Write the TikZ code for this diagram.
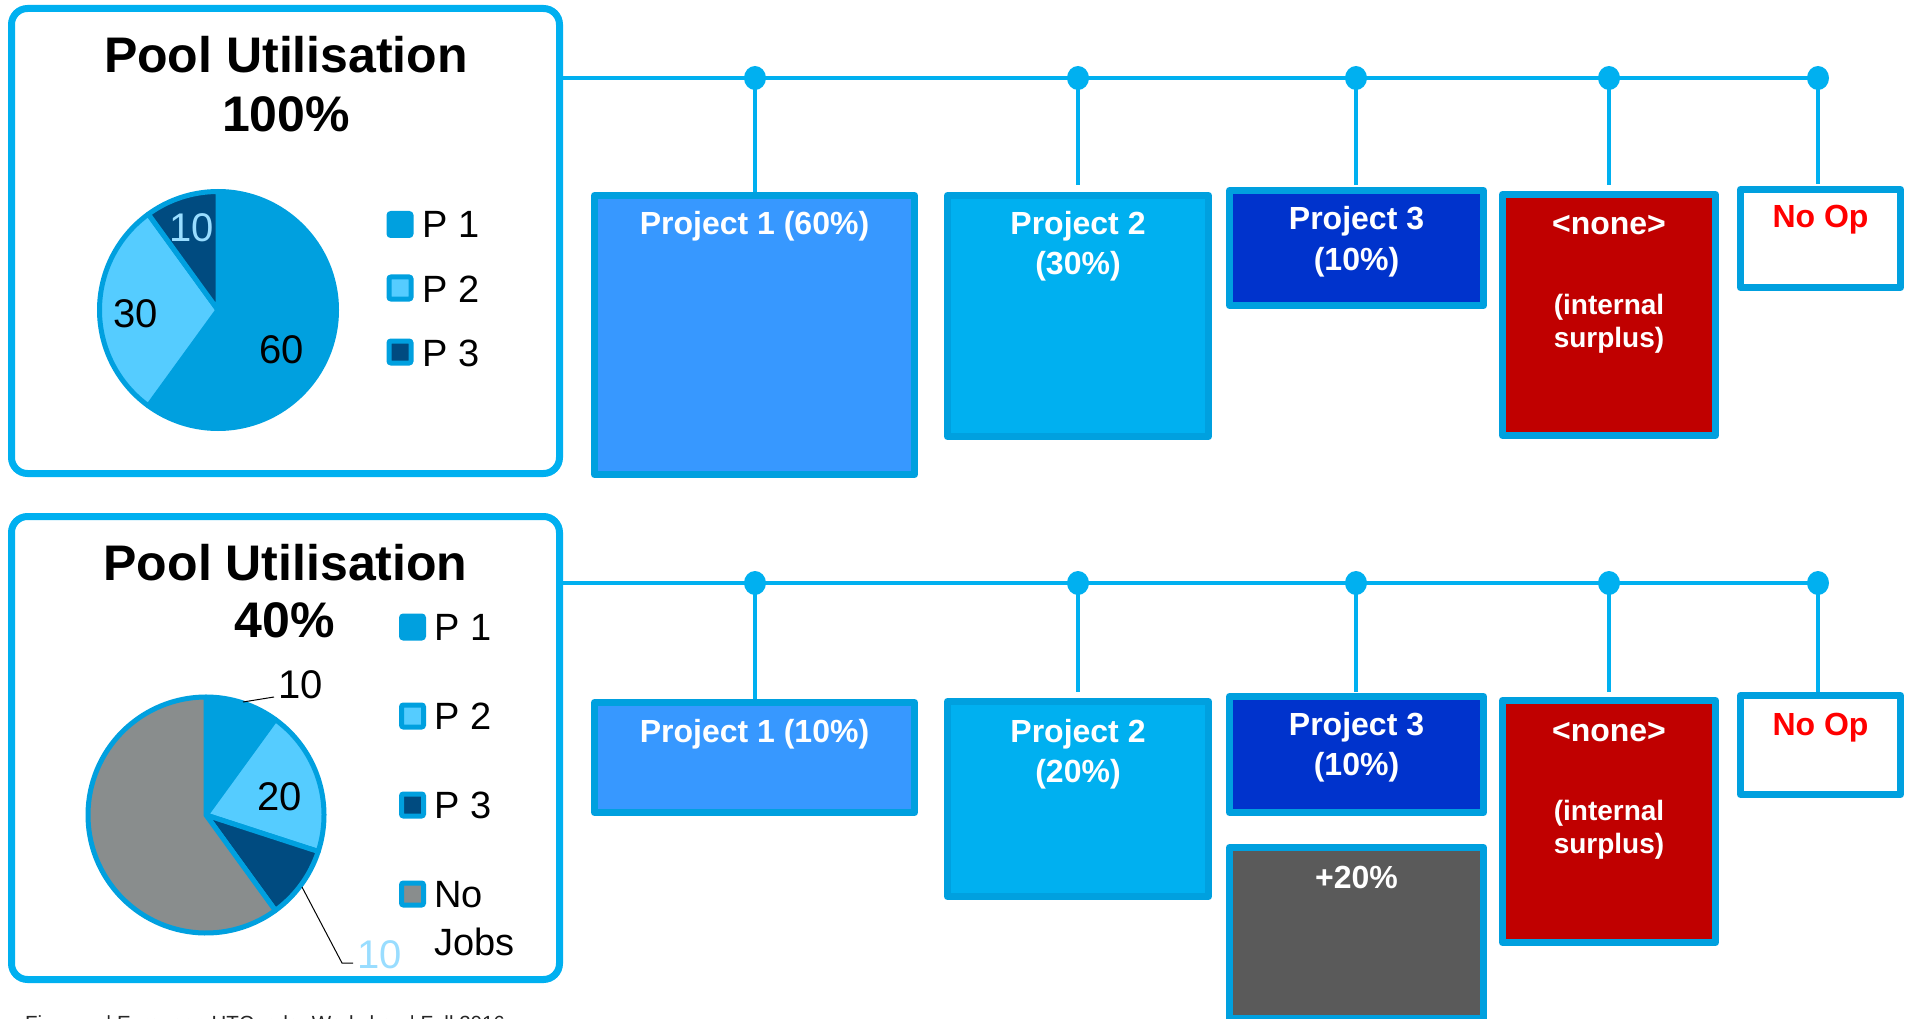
\documentclass[tikz,border=0pt]{standalone}
\usepackage{fontspec}
\setmainfont{Liberation Sans}
\usetikzlibrary{shapes.geometric}

\definecolor{bus}{HTML}{00B0F0}
\definecolor{edge}{HTML}{00A0DF}
\definecolor{projA}{HTML}{3798FF}
\definecolor{projB}{HTML}{00B0F0}
\definecolor{projC}{HTML}{0033CC}
\definecolor{surplus}{HTML}{C00000}
\definecolor{extra}{HTML}{5A5A5A}
\definecolor{pieA}{HTML}{00A0DF}
\definecolor{pieB}{HTML}{55CCFF}
\definecolor{pieC}{HTML}{004B80}
\definecolor{pieIdle}{HTML}{898D8D}
\definecolor{pale}{HTML}{99DDFF}
\definecolor{noop}{HTML}{FF0000}

\tikzset{
  poolbox/.style={draw=bus, line width=7pt, rounded corners=16pt, fill=white,
    minimum width=548pt, inner sep=0pt, outer sep=0pt},
  projbox/.style={draw=edge, line width=7pt, line join=round, inner sep=0pt, outer sep=3.5pt},
  % multi-line texts are anchored on the baseline of their last line
  boxtext/.style={text=white, font=\bfseries\fontsize{32}{40}\selectfont, align=center,
    anchor=base, inner sep=0pt},
  smalltext/.style={text=white, font=\bfseries\fontsize{28}{33}\selectfont, align=center,
    anchor=base, inner sep=0pt},
  title/.style={font=\bfseries\fontsize{50}{60}\selectfont, anchor=base, inner sep=0pt},
  busline/.style={draw=bus, line width=4.5pt},
  dot/.style={ellipse, fill=bus, minimum width=22pt, minimum height=24pt, inner sep=0pt},
  slice/.style={draw=edge, line width=5pt, line join=round},
  pienum/.style={font=\fontsize{40}{48}\selectfont, anchor=base, inner sep=0pt},
  legtext/.style={font=\fontsize{38}{46}\selectfont, anchor=base west, inner sep=0pt},
  legkey/.style={draw=edge, line width=5pt, rounded corners=2pt, minimum size=22pt, inner sep=0pt},
  leader/.style={draw=black, line width=1pt},
}

\begin{document}
\begin{tikzpicture}[x=1pt, y=-1pt]
\useasboundingbox (0,0) rectangle (1907,1019);
\clip (0,0) rectangle (1907,1019);

% ---------- utilisation panels ----------
\node[poolbox, minimum height=465pt] (pool1) at (285.5,241) {};
\node[poolbox, minimum height=463pt] (pool2) at (285.5,748) {};

\node[title] (ttl1) at (286,73) {Pool Utilisation};
\node[title] (pct1) at (286,132) {100\%};
\node[title] (ttl2) at (285.5,580) {Pool Utilisation};
\node[title] (pct2) at (285,637) {40\%};

% pie: full pool
\begin{scope}[shift={(218,310)}, x=1pt, y=1pt]
  \filldraw[slice, fill=pieA] (0,0) -- (90:118.5) arc[start angle=90, end angle=-126, radius=118.5] -- cycle;
  \filldraw[slice, fill=pieB] (0,0) -- (-126:118.5) arc[start angle=-126, end angle=-234, radius=118.5] -- cycle;
  \filldraw[slice, fill=pieC] (0,0) -- (126:118.5) arc[start angle=126, end angle=90, radius=118.5] -- cycle;
\end{scope}
\node[pienum, text=pale] (n1c) at (192,242) {10};
\node[pienum] (n1b) at (136,327) {30};
\node[pienum] (n1a) at (282,363) {60};

\node[legkey, fill=pieA] (k1a) at (400,224.5) {};
\node[legkey, fill=pieB] (k1b) at (400,288) {};
\node[legkey, fill=pieC] (k1c) at (400,352) {};
\node[legtext] (l1a) at (422,238) {P 1};
\node[legtext] (l1b) at (422,302) {P 2};
\node[legtext] (l1c) at (422,366) {P 3};

% pie: partly idle pool
\begin{scope}[shift={(206,815)}, x=1pt, y=1pt]
  \filldraw[slice, fill=pieA] (0,0) -- (90:118) arc[start angle=90, end angle=54, radius=118] -- cycle;
  \filldraw[slice, fill=pieB] (0,0) -- (54:118) arc[start angle=54, end angle=-18, radius=118] -- cycle;
  \filldraw[slice, fill=pieC] (0,0) -- (-18:118) arc[start angle=-18, end angle=-54, radius=118] -- cycle;
  \filldraw[slice, fill=pieIdle] (0,0) -- (-54:118) arc[start angle=-54, end angle=-270, radius=118] -- cycle;
\end{scope}
\node[pienum] (n2a) at (301,698) {10};
\node[pienum] (n2b) at (280,810) {20};
\node[pienum, text=pale] (n2c) at (380,968) {10};
\coordinate (la0) at (243,702);
\coordinate (la1) at (274,697);
\coordinate (lc0) at (302,887);
\coordinate (lc1) at (342,963);
\coordinate (lc2) at (353,963);
\draw[leader] (la0) -- (la1);
\draw[leader] (lc0) -- (lc1) -- (lc2);

\node[legkey, fill=pieA] (k2a) at (412.5,627) {};
\node[legkey, fill=pieB] (k2b) at (412.5,716) {};
\node[legkey, fill=pieC] (k2c) at (412.5,805) {};
\node[legkey, fill=pieIdle] (k2d) at (412.5,894) {};
\node[legtext] (l2a) at (434,640) {P 1};
\node[legtext] (l2b) at (434,729) {P 2};
\node[legtext] (l2c) at (434,818) {P 3};
\node[legtext, align=left, font=\fontsize{38}{48}\selectfont] (l2d) at (434,955) {No\\Jobs};

% ---------- project boxes, full pool ----------
\node[projbox, fill=projA, minimum width=320pt, minimum height=279pt] (t1) at (754.5,335) {};
\node[projbox, fill=projB, minimum width=261pt, minimum height=241pt] (t2) at (1078,316) {};
\node[projbox, fill=projC, minimum width=254pt, minimum height=115pt] (t3) at (1356.5,248) {};
\node[projbox, fill=surplus, minimum width=213pt, minimum height=241pt] (t4) at (1609,315) {};
\node[projbox, fill=white, minimum width=160pt, minimum height=98pt] (t5) at (1820.5,238.5) {};

\node[boxtext] (t1l) at ([yshift=-43pt]t1.north) {Project 1 (60\%)};
\node[boxtext] (t2l) at ([yshift=-83pt]t2.north) {Project 2\\(30\%)};
\node[boxtext] (t3l) at ([yshift=-83pt]t3.north) {Project 3\\(10\%)};
\node[boxtext] (t4l) at ([yshift=-44pt]t4.north) {<none>};
\node[smalltext] (t4s) at ([yshift=-156pt]t4.north) {(internal\\surplus)};
\node[boxtext, text=noop] (t5l) at ([yshift=-42pt]t5.north) {No Op};

\node[dot] (d1) at (755,78) {};
\node[dot] (d2) at (1078,78) {};
\node[dot] (d3) at (1356,78) {};
\node[dot] (d4) at (1609,78) {};
\node[dot] (d5) at (1818,78) {};
\draw[busline] (pool1.east |- d1.center) -- (d5.center);
\draw[busline] (d1.center) -- (d1.center |- t1.north);
\draw[busline, shorten >=7pt] (d2.center) -- (d2.center |- t2.north);
\draw[busline, shorten >=2pt] (d3.center) -- (d3.center |- t3.north);
\draw[busline, shorten >=6pt] (d4.center) -- (d4.center |- t4.north);
\draw[busline, shorten >=2pt] (d5.center) -- (d5.center |- t5.north);

% ---------- project boxes, partly idle pool ----------
\node[projbox, fill=projA, minimum width=320pt, minimum height=110pt] (b1) at (754.5,757.5) {};
\node[projbox, fill=projB, minimum width=261pt, minimum height=195pt] (b2) at (1078,799) {};
\node[projbox, fill=projC, minimum width=254pt, minimum height=116pt] (b3) at (1356.5,754.5) {};
\node[projbox, fill=extra, minimum width=254pt, minimum height=171pt] (b3x) at (1356.5,933) {};
\node[projbox, fill=surplus, minimum width=213pt, minimum height=242pt] (b4) at (1609,821.5) {};
\node[projbox, fill=white, minimum width=160pt, minimum height=99pt] (b5) at (1820.5,745) {};

\node[boxtext] (b1l) at ([yshift=-43pt]b1.north) {Project 1 (10\%)};
\node[boxtext] (b2l) at ([yshift=-84pt]b2.north) {Project 2\\(20\%)};
\node[boxtext] (b3l) at ([yshift=-82pt]b3.north) {Project 3\\(10\%)};
\node[boxtext] (b3xl) at ([yshift=-44pt]b3x.north) {+20\%};
\node[boxtext] (b4l) at ([yshift=-44pt]b4.north) {<none>};
\node[smalltext] (b4s) at ([yshift=-156pt]b4.north) {(internal\\surplus)};
\node[boxtext, text=noop] (b5l) at ([yshift=-43pt]b5.north) {No Op};

\node[dot] (e1) at (755,583) {};
\node[dot] (e2) at (1078,583) {};
\node[dot] (e3) at (1356,583) {};
\node[dot] (e4) at (1609,583) {};
\node[dot] (e5) at (1818,583) {};
\draw[busline] (pool2.east |- e1.center) -- (e5.center);
\draw[busline] (e1.center) -- (e1.center |- b1.north);
\draw[busline, shorten >=6pt] (e2.center) -- (e2.center |- b2.north);
\draw[busline, shorten >=1pt] (e3.center) -- (e3.center |- b3.north);
\draw[busline, shorten >=5pt] (e4.center) -- (e4.center |- b4.north);
\draw[busline] (e5.center) -- (e5.center |- b5.north);

% footer line, cut by the page edge
\node[font=\fontsize{20.5}{24}\selectfont, anchor=base west, inner sep=0pt, text=black!85] (foot)
  at (25,1030) {Fi\phantom{rname} | European HTCondor Workshop | Fall 2016};
\end{tikzpicture}
\end{document}
